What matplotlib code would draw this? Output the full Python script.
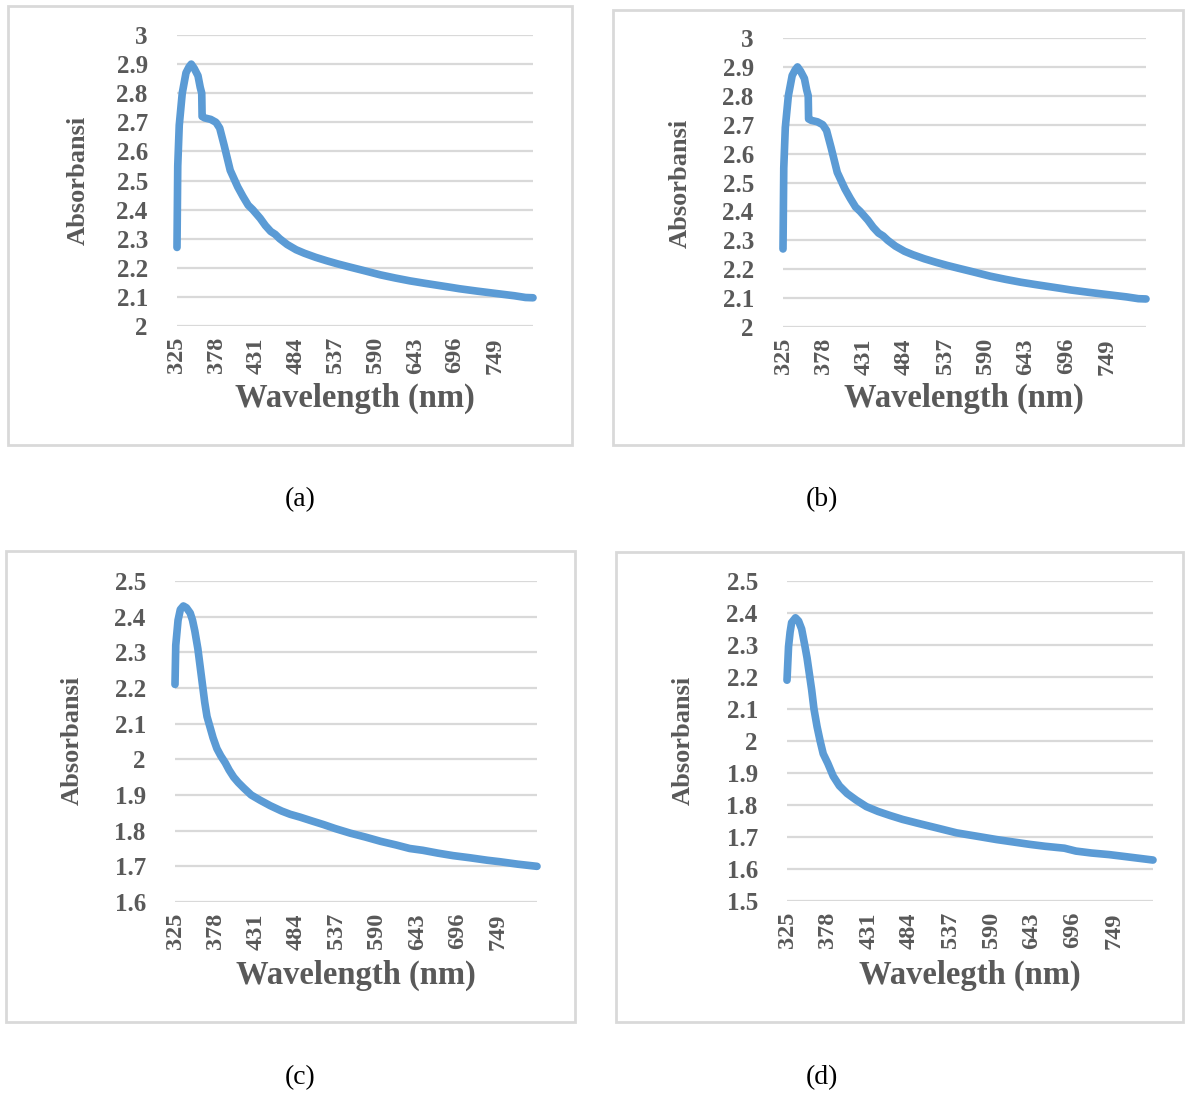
import matplotlib.pyplot as plt
from matplotlib.patches import Rectangle

# ukuran gambar asli (px)
W, H = 1186, 1094

# --- data hasil pembacaan grafik ---
wl_a = [325, 326, 328, 332, 337, 341, 344, 348, 353, 356, 358, 358.5, 362, 370, 377,
        382, 388, 396, 406, 413, 420, 426, 431, 436, 443, 450, 456, 462, 472, 484,
        495, 510, 525, 540, 555, 575, 596, 616, 636, 655, 670, 690, 702, 725, 753,
        775, 790, 800]
abs_a = [2.27, 2.55, 2.69, 2.80, 2.87, 2.89, 2.90, 2.885, 2.86, 2.82, 2.80, 2.72, 2.715,
         2.71, 2.70, 2.68, 2.62, 2.535, 2.478, 2.445, 2.415, 2.40, 2.385, 2.37, 2.345,
         2.325, 2.315, 2.30, 2.28, 2.262, 2.25, 2.236, 2.224, 2.213, 2.203, 2.19, 2.176,
         2.165, 2.155, 2.147, 2.141, 2.133, 2.128, 2.12, 2.111, 2.104, 2.098, 2.097]

# panel (b) memakai data yang sama dengan (a)
wl_b = list(wl_a)
abs_b = list(abs_a)

wl_c = [325, 326, 329, 332, 336, 340, 345, 348, 351, 355, 358, 361, 364, 367, 371, 375,
        380, 385, 391, 396, 402, 408, 415, 425, 437, 450, 465, 476, 489, 505, 520, 535,
        555, 575, 595, 615, 633, 650, 670, 690, 712, 735, 751, 775, 800]
abs_c = [2.21, 2.32, 2.39, 2.42, 2.43, 2.425, 2.41, 2.39, 2.36, 2.31, 2.26, 2.21, 2.16,
         2.12, 2.09, 2.06, 2.03, 2.01, 1.99, 1.97, 1.95, 1.935, 1.92, 1.90, 1.885, 1.87,
         1.855, 1.846, 1.838, 1.827, 1.817, 1.806, 1.793, 1.782, 1.77, 1.76, 1.75, 1.745,
         1.737, 1.73, 1.724, 1.717, 1.713, 1.706, 1.70]

wl_d = [325, 327, 329, 331, 336, 340, 344, 348, 351, 354, 357, 360, 364, 368, 372, 378,
        385, 393, 403, 415, 428, 443, 459, 475, 493, 520, 545, 570, 597, 620, 640, 660,
        685, 690, 700, 720, 743, 760, 780, 800]
abs_d = [2.19, 2.295, 2.34, 2.37, 2.385, 2.375, 2.35, 2.30, 2.26, 2.21, 2.16, 2.10, 2.045,
         2.00, 1.96, 1.93, 1.89, 1.86, 1.836, 1.815, 1.795, 1.78, 1.767, 1.755, 1.744,
         1.728, 1.713, 1.703, 1.692, 1.684, 1.677, 1.671, 1.665, 1.662, 1.656, 1.65,
         1.645, 1.64, 1.634, 1.628]

x_ticks = [325, 378, 431, 484, 537, 590, 643, 696, 749]
y_ticks_ab = [2.0, 2.1, 2.2, 2.3, 2.4, 2.5, 2.6, 2.7, 2.8, 2.9, 3.0]
y_labels_ab = ["2", "2.1", "2.2", "2.3", "2.4", "2.5", "2.6", "2.7", "2.8", "2.9", "3"]
y_ticks_c = [1.6, 1.7, 1.8, 1.9, 2.0, 2.1, 2.2, 2.3, 2.4, 2.5]
y_labels_c = ["1.6", "1.7", "1.8", "1.9", "2", "2.1", "2.2", "2.3", "2.4", "2.5"]
y_ticks_d = [1.5, 1.6, 1.7, 1.8, 1.9, 2.0, 2.1, 2.2, 2.3, 2.4, 2.5]
y_labels_d = ["1.5", "1.6", "1.7", "1.8", "1.9", "2", "2.1", "2.2", "2.3", "2.4", "2.5"]

LINE = "#5B9BD5"
GRID = "#D9D9D9"
TXT = "#595959"
SERIF = "Liberation Serif"


def fx(x):
    return x / W


def fy(y):
    return 1 - y / H


fig = plt.figure(figsize=(W / 100, H / 100), dpi=100)

# (plot area px, border px, ylabel pos, xlabel pos, caption pos, xlabel text)
panels = [
    (wl_a, abs_a, y_ticks_ab, y_labels_ab, (177, 35, 533, 326), (8, 6, 572, 445),
     (78, 180), (355, 398), (300, 500), "Wavelength (nm)", "(a)"),
    (wl_b, abs_b, y_ticks_ab, y_labels_ab, (783, 38, 1146, 327), (613, 10, 1183, 445),
     (680, 183), (964, 398), (822, 500), "Wavelength (nm)", "(b)"),
    (wl_c, abs_c, y_ticks_c, y_labels_c, (175, 581, 537, 902), (6, 551, 575, 1022),
     (72, 740), (356, 975), (300, 1078), "Wavelength (nm)", "(c)"),
    (wl_d, abs_d, y_ticks_d, y_labels_d, (787, 581, 1153, 901), (616, 552, 1183, 1022),
     (683, 740), (970, 975), (822, 1078), "Wavelegth (nm)", "(d)"),
]

for wl, ab, yt, yl, box, border, ylab, xlab, cap, xtext, captext in panels:
    x0, y0, x1, y1 = box
    ax = fig.add_axes([fx(x0), fy(y1), (x1 - x0) / W, (y1 - y0) / H])
    ax.plot(wl, ab, color=LINE, lw=5.5, solid_capstyle="round", solid_joinstyle="round",
            zorder=3, clip_on=False)
    ax.set_xlim(325, 800)
    ax.set_ylim(yt[0], yt[-1])
    ax.set_xticks(x_ticks)
    ax.set_xticklabels([str(t) for t in x_ticks], rotation=90, fontsize=17.5,
                       fontweight="bold", family=SERIF, color=TXT)
    ax.set_yticks(yt)
    ax.set_yticklabels(yl, fontsize=18, fontweight="bold", family=SERIF, color=TXT)
    ax.tick_params(axis="both", length=0)
    ax.tick_params(axis="y", pad=21)
    ax.tick_params(axis="x", pad=8)
    ax.grid(axis="y", color=GRID, lw=1.6)
    ax.set_axisbelow(True)
    for s in ax.spines.values():
        s.set_visible(False)

    fig.text(fx(ylab[0]), fy(ylab[1]), "Absorbansi", rotation=90, ha="center",
             va="center", fontsize=19, fontweight="bold", family=SERIF, color=TXT)
    fig.text(fx(xlab[0]), fy(xlab[1]), xtext, ha="center", va="center",
             fontsize=23.5, fontweight="bold", family=SERIF, color=TXT)
    fig.text(fx(cap[0]), fy(cap[1]), captext, ha="center", va="center",
             fontsize=20, family=SERIF, color="black")

    bx0, by0, bx1, by1 = border
    fig.patches.append(Rectangle((fx(bx0), fy(by1)), (bx1 - bx0) / W, (by1 - by0) / H,
                                 transform=fig.transFigure, fill=False,
                                 edgecolor=GRID, lw=2))

fig.savefig("out.png", dpi=100)
